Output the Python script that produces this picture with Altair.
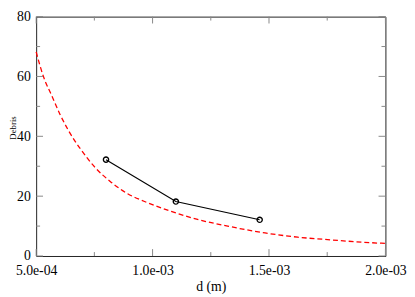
import altair as alt
import pandas as pd

# data
curve_d = [0.0005, 0.000532, 0.000567, 0.000602, 0.000637, 0.000666, 0.00069, 0.000753,
           0.000823, 0.000893, 0.000963, 0.00108, 0.001189, 0.001328, 0.001483, 0.001623,
           0.001764, 0.001904, 0.002]
curve_y = [68.2, 59.8, 53.6, 47.4, 42.2, 38.5, 35.8, 29.6,
           24.6, 20.8, 18.3, 14.9, 12.3, 9.9, 7.7, 6.3,
           5.4, 4.6, 4.2]

pts_d = [0.0008, 0.0011, 0.00146]
pts_y = [32.2, 18.2, 12.1]

x_major = [0.0005, 0.001, 0.0015, 0.002]
x_minor = [0.00075, 0.00125, 0.00175]
y_major = [0, 20, 40, 60, 80]
y_minor = [10, 30, 50, 70]

W, H = 356, 244
FONT = "'Liberation Serif', 'Times New Roman', serif"
MAJ, MIN = 7, 4

curve = pd.DataFrame({"d": curve_d, "n": curve_y})
pts = pd.DataFrame({"d": pts_d, "n": pts_y})

xs = alt.Scale(domain=[0.0005, 0.002], nice=False, zero=False)
ys = alt.Scale(domain=[0, 80], nice=False)

xaxis = alt.Axis(values=x_major, ticks=False, domain=False, grid=False,
                 labelExpr="replace(format(datum.value, '.1e'), 'e-', 'e-0')",
                 labelFont=FONT, labelFontSize=14, labelColor="black",
                 labelFlush=False, labelOverlap=False, labelPadding=8,
                 title="d (m)", titleFont=FONT, titleFontSize=14,
                 titleFontWeight="normal", titleColor="black",
                 titleY=35, titleBaseline="alphabetic")
yaxis = alt.Axis(values=y_major, ticks=False, domain=False, grid=False,
                 labelFont=FONT, labelFontSize=14, labelColor="black",
                 labelPadding=6, labelOverlap=False,
                 title="Debris", titleFont=FONT, titleFontSize=9,
                 titleFontWeight="normal", titleColor="black",
                 titleX=-24, titleY=113, titleAlign="center", titleBaseline="middle")

red = alt.Chart(curve).mark_line(color="#ff0000", strokeDash=[5, 3], strokeWidth=1.3,
                                 interpolate="monotone").encode(
    x=alt.X("d:Q", scale=xs, axis=xaxis),
    y=alt.Y("n:Q", scale=ys, axis=yaxis),
)
blk = alt.Chart(pts).mark_line(color="black", strokeWidth=1.2).encode(
    x=alt.X("d:Q", scale=xs), y=alt.Y("n:Q", scale=ys))
circ = alt.Chart(pts).mark_point(shape="circle", size=28, color="black", filled=False,
                                 strokeWidth=1.4, opacity=1).encode(
    x=alt.X("d:Q", scale=xs), y=alt.Y("n:Q", scale=ys))

def xticks(vals, ln):
    df = pd.DataFrame({"d": vals})
    b = alt.Chart(df).mark_rule(color="#888", strokeWidth=1).encode(
        x=alt.X("d:Q", scale=xs), y=alt.value(H), y2=alt.value(H - ln))
    t = alt.Chart(df).mark_rule(color="#888", strokeWidth=1).encode(
        x=alt.X("d:Q", scale=xs), y=alt.value(0), y2=alt.value(ln))
    return b + t

def yticks(vals, ln):
    df = pd.DataFrame({"n": vals})
    l = alt.Chart(df).mark_rule(color="#888", strokeWidth=1).encode(
        y=alt.Y("n:Q", scale=ys), x=alt.value(0), x2=alt.value(ln))
    r = alt.Chart(df).mark_rule(color="#888", strokeWidth=1).encode(
        y=alt.Y("n:Q", scale=ys), x=alt.value(W), x2=alt.value(W - ln))
    return l + r

chart = alt.layer(
    red, xticks(x_major, MAJ), xticks(x_minor, MIN), yticks(y_major, MAJ), yticks(y_minor, MIN),
    blk, circ
).properties(
    width=W, height=H,
    autosize=alt.AutoSizeParams(type="none"),
    padding={"left": 28.7, "top": 6, "right": 22, "bottom": 39},
).configure(
    background="white", font=FONT
).configure_axis(
    labelFont=FONT, titleFont=FONT
).configure_view(stroke="#222", strokeWidth=1)

chart.save("out.html", embed_options={"renderer": "svg", "actions": False})
